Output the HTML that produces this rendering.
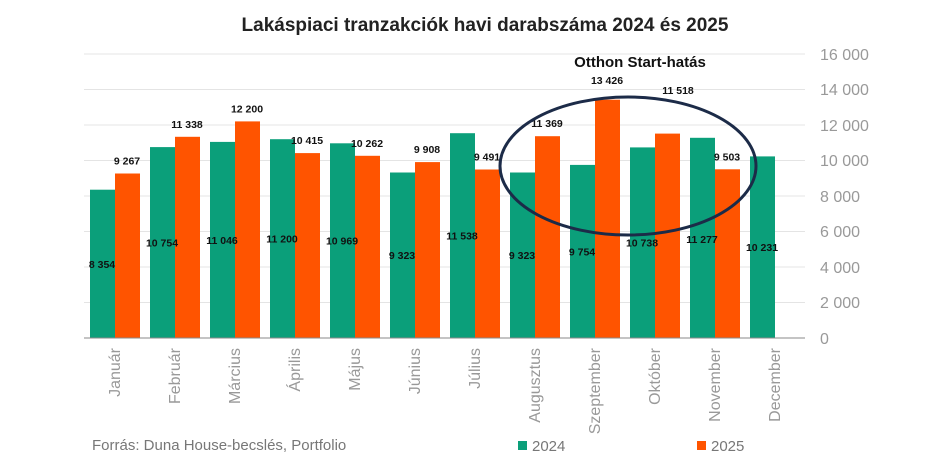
<!DOCTYPE html>
<html><head><meta charset="utf-8"><style>
body{margin:0;background:#fff;}
svg text{font-family:"Liberation Sans",sans-serif;}
.v{font-size:10.5px;font-weight:bold;fill:#111;text-anchor:middle}
.m{font-size:16px;fill:#999;text-anchor:end}
</style></head><body>
<svg width="925" height="459" viewBox="0 0 925 459" xmlns="http://www.w3.org/2000/svg">
<rect width="925" height="459" fill="#fff"/>
<text x="485" y="31" text-anchor="middle" font-size="19" font-weight="bold" fill="#222">Lakáspiaci tranzakciók havi darabszáma 2024 és 2025</text>
<g stroke="#e4e4e4" stroke-width="1">
<line x1="84" x2="805" y1="54" y2="54"/><line x1="84" x2="805" y1="89.5" y2="89.5"/>
<line x1="84" x2="805" y1="125" y2="125"/><line x1="84" x2="805" y1="160.5" y2="160.5"/>
<line x1="84" x2="805" y1="196" y2="196"/><line x1="84" x2="805" y1="231.5" y2="231.5"/>
<line x1="84" x2="805" y1="267" y2="267"/><line x1="84" x2="805" y1="302.5" y2="302.5"/>
</g>
<g font-size="16" fill="#999">
<text x="820" y="60">16 000</text><text x="820" y="95">14 000</text><text x="820" y="131">12 000</text>
<text x="820" y="166">10 000</text><text x="820" y="202">8 000</text><text x="820" y="237">6 000</text>
<text x="820" y="273">4 000</text><text x="820" y="308">2 000</text><text x="820" y="344">0</text>
</g>
<g fill="#0b9f7a">
<rect x="90" y="189.7" width="25" height="148.3"/>
<rect x="150" y="147.1" width="25" height="190.9"/>
<rect x="210" y="141.9" width="25" height="196.1"/>
<rect x="270" y="139.2" width="25" height="198.8"/>
<rect x="330" y="143.3" width="25" height="194.7"/>
<rect x="390" y="172.5" width="25" height="165.5"/>
<rect x="450" y="133.2" width="25" height="204.8"/>
<rect x="510" y="172.5" width="25" height="165.5"/>
<rect x="570" y="164.9" width="25" height="173.1"/>
<rect x="630" y="147.4" width="25" height="190.6"/>
<rect x="690" y="137.8" width="25" height="200.2"/>
<rect x="750" y="156.4" width="25" height="181.6"/>
</g>
<g fill="#ff5400">
<rect x="115" y="173.5" width="25" height="164.5"/>
<rect x="175" y="136.8" width="25" height="201.2"/>
<rect x="235" y="121.4" width="25" height="216.6"/>
<rect x="295" y="153.1" width="25" height="184.9"/>
<rect x="355" y="155.8" width="25" height="182.2"/>
<rect x="415" y="162.1" width="25" height="175.9"/>
<rect x="475" y="169.5" width="25" height="168.5"/>
<rect x="535" y="136.2" width="25" height="201.8"/>
<rect x="595" y="99.7" width="25" height="238.3"/>
<rect x="655" y="133.6" width="25" height="204.4"/>
<rect x="715" y="169.3" width="25" height="168.7"/>
</g>
<g>
<text class="v" x="102" y="268">8 354</text>
<text class="v" x="162" y="246.5">10 754</text>
<text class="v" x="222" y="244">11 046</text>
<text class="v" x="282" y="242.6">11 200</text>
<text class="v" x="342" y="244.6">10 969</text>
<text class="v" x="402" y="259.2">9 323</text>
<text class="v" x="462" y="239.6">11 538</text>
<text class="v" x="522" y="259.2">9 323</text>
<text class="v" x="582" y="255.4">9 754</text>
<text class="v" x="642" y="246.7">10 738</text>
<text class="v" x="702" y="242.9">11 277</text>
<text class="v" x="762" y="251.2">10 231</text>
<text class="v" x="127" y="164.5">9 267</text>
<text class="v" x="187" y="127.8">11 338</text>
<text class="v" x="247" y="112.4">12 200</text>
<text class="v" x="307" y="144.1">10 415</text>
<text class="v" x="367" y="146.8">10 262</text>
<text class="v" x="427" y="153.1">9 908</text>
<text class="v" x="487" y="160.5">9 491</text>
<text class="v" x="547" y="127.2">11 369</text>
<text class="v" x="607" y="84">13 426</text>
<text class="v" x="678" y="94">11 518</text>
<text class="v" x="727" y="160.3">9 503</text>
</g>
<g>
<text class="m" transform="translate(120,348) rotate(-90)">Január</text>
<text class="m" transform="translate(180,348) rotate(-90)">Február</text>
<text class="m" transform="translate(240,348) rotate(-90)">Március</text>
<text class="m" transform="translate(300,348) rotate(-90)">Április</text>
<text class="m" transform="translate(360,348) rotate(-90)">Május</text>
<text class="m" transform="translate(420,348) rotate(-90)">Június</text>
<text class="m" transform="translate(480,348) rotate(-90)">Július</text>
<text class="m" transform="translate(540,348) rotate(-90)">Augusztus</text>
<text class="m" transform="translate(600,348) rotate(-90)">Szeptember</text>
<text class="m" transform="translate(660,348) rotate(-90)">Október</text>
<text class="m" transform="translate(720,348) rotate(-90)">November</text>
<text class="m" transform="translate(780,348) rotate(-90)">December</text>
</g>
<line x1="84" x2="805" y1="338" y2="338" stroke="#888" stroke-width="1"/>
<ellipse cx="628" cy="166" rx="128" ry="69" fill="none" stroke="#1c2b48" stroke-width="3"/>
<text x="640" y="67" text-anchor="middle" font-size="15" font-weight="bold" fill="#111">Otthon Start-hatás</text>
<text x="92" y="450" font-size="15" fill="#777">Forrás: Duna House-becslés, Portfolio</text>
<rect x="518" y="441" width="9" height="9" fill="#0b9f7a"/><text x="532" y="451" font-size="15" fill="#777">2024</text>
<rect x="697" y="441" width="9" height="9" fill="#ff5400"/><text x="711" y="451" font-size="15" fill="#777">2025</text>
</svg>
</body></html>
